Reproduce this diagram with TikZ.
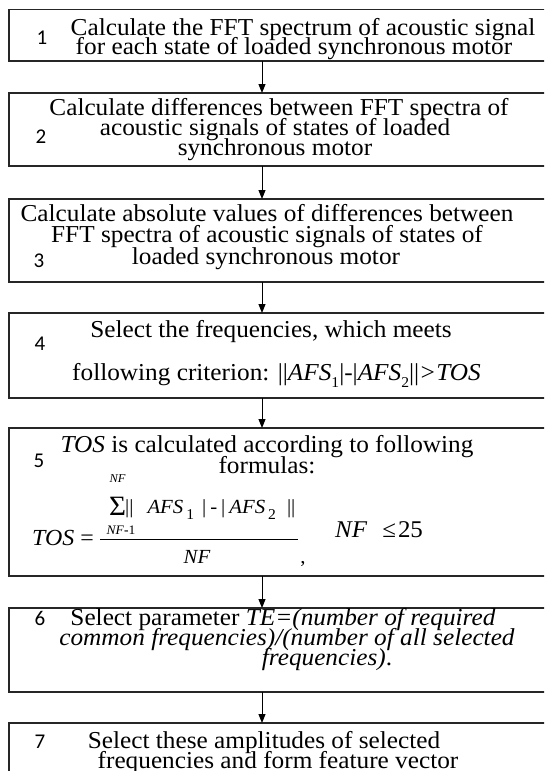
\documentclass[tikz,border=0pt]{standalone}
\usepackage{fontspec}
\setmainfont{Liberation Serif}[FakeStretch=1.04]
\newfontfamily\numfont{Carlito}
\usetikzlibrary{arrows.meta}

\newcommand{\lowsub}[2][7pt]{\raisebox{-#1}{\fontsize{15}{15}\selectfont\upshape #2}}

\begin{document}
\begin{tikzpicture}[x=1pt,y=-1pt,
  stepbox/.style={draw=black!85, line width=1.4pt, rectangle, inner sep=0pt,
    outer sep=0pt, anchor=north west, minimum width=551pt},
  txt/.style={anchor=base, inner sep=0pt, font=\fontsize{24.3}{24.3}\selectfont},
  num/.style={anchor=base, inner sep=0pt, font=\numfont\fontsize{21}{21}\selectfont},
  eq/.style={inner sep=0pt},
  flow/.style={draw=black, line width=1pt, -{Triangle[length=9pt,width=7pt]}},
]
\useasboundingbox (0,0) rectangle (544,771);
\fill[white] (0,0) rectangle (544,771);
\clip (0,0) rectangle (544,771);

% step boxes (right edge runs past the page)
\node[stepbox, minimum height=51.5pt] (b1) at (9,9.5) {};
\node[stepbox, minimum height=73pt]   (b2) at (9,93) {};
\node[stepbox, minimum height=83pt]   (b3) at (9,199) {};
\node[stepbox, minimum height=85pt]   (b4) at (9,313) {};
\node[stepbox, minimum height=148pt]  (b5) at (9,428) {};
\node[stepbox, minimum height=84pt]   (b6) at (9,608) {};
\node[stepbox, minimum height=80pt]   (b7) at (9,723) {};

% connectors
\coordinate (ax) at (262,0);
\draw[flow] (b1.south -| ax) -- (b2.north -| ax);
\draw[flow] (b2.south -| ax) -- (b3.north -| ax);
\draw[flow] (b3.south -| ax) -- (b4.north -| ax);
\draw[flow] (b4.south -| ax) -- (b5.north -| ax);
\draw[flow] (b5.south -| ax) -- (b6.north -| ax);
\draw[flow] (b6.south -| ax) -- (b7.north -| ax);

% step 1
\node[num] (n1) at (42,44) {1};
\node[txt] (t1a) at (303,35) {Calculate the FFT spectrum of acoustic signal};
\node[txt] (t1b) at (294,54) {for each state of loaded synchronous motor};

% step 2
\node[num] (n2) at (41,143) {2};
\node[txt] (t2a) at (279,115) {Calculate differences between FFT spectra of};
\node[txt] (t2b) at (275,135) {acoustic signals of states of loaded};
\node[txt] (t2c) at (275,155) {synchronous motor};

% step 3
\node[num] (n3) at (39,267) {3};
\node[txt] (t3a) at (267,221) {Calculate absolute values of differences between};
\node[txt] (t3b) at (267,242) {FFT spectra of acoustic signals of states of};
\node[txt] (t3c) at (266,264) {loaded synchronous motor};

% step 4
\node[num] (n4) at (40,350) {4};
\node[txt] (t4a) at (271,337) {Select the frequencies, which meets};
\node[txt, anchor=base west] (t4b) at (72,380) {following criterion: ||\textit{AFS}\lowsub{1}|-|\textit{AFS}\lowsub{2}||\textit{>TOS}};

% step 5
\node[num] (n5) at (39,467) {5};
\node[txt] (t5a) at (267,452) {\textit{TOS} is calculated according to following};
\node[txt] (t5b) at (267,473) {formulas:};
\node[eq, anchor=base west, font=\fontsize{23}{23}\selectfont] (tosl) at (32,545) {\textit{TOS}\hspace{6pt}=};
\node[eq, anchor=base, font=\fontsize{28}{28}\selectfont] (sig) at (117.5,515) {Σ};
\node[eq, anchor=base, font=\itshape\fontsize{12}{12}\selectfont] (sigtop) at (117.5,482) {NF};
\node[eq, anchor=base, font=\fontsize{13}{13}\selectfont] (sigbot) at (121,534) {\textit{NF}\textbf{-}1};
\node[eq, anchor=base west, font=\fontsize{20}{20}\selectfont] (numr) at (125,513)
  {||\hspace{14pt}\textit{AFS}\hspace{3pt}\lowsub[6pt]{1}\hspace{8pt}|\hspace{4pt}-\hspace{4pt}|\hspace{4pt}\textit{AFS}\hspace{3pt}\lowsub[6pt]{2}\hspace{11pt}||};
\draw[line width=0.8pt] (100,539) -- (298,539);
\node[eq, anchor=base, font=\itshape\fontsize{20}{20}\selectfont] (den) at (197,563) {NF};
\node[eq, anchor=base, font=\fontsize{20}{20}\selectfont] (comma) at (303,563) {,};
\node[eq, anchor=base west, font=\fontsize{24}{24}\selectfont] (nfle) at (335,537) {\textit{NF}\hspace{15pt}≤\hspace{2pt}25};

% step 6
\node[num] (n6) at (40,625) {6};
\node[txt] (t6a) at (283,625) {Select parameter \textit{TE=(number of required}};
\node[txt] (t6b) at (287,645) {\textit{common frequencies)/(number of all selected}};
\node[txt] (t6c) at (327,665) {\textit{frequencies)}.};

% step 7
\node[num] (n7) at (40,748) {7};
\node[txt] (t7a) at (264,748) {Select these amplitudes of selected};
\node[txt] (t7b) at (278,768) {frequencies and form feature vector};
\end{tikzpicture}
\end{document}
